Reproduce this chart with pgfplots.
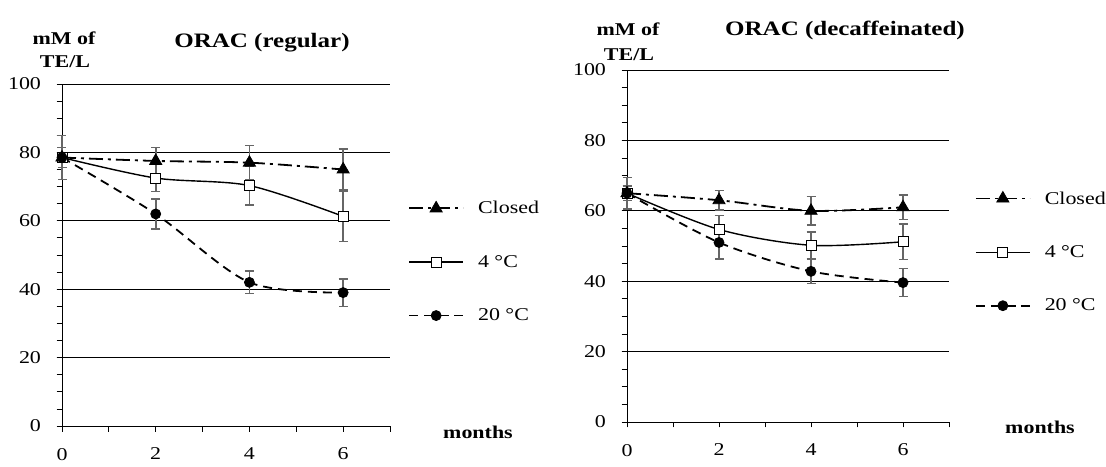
\documentclass[border=0pt]{standalone}
\usepackage{pgfplots}
\pgfplotsset{compat=1.18}
\usepackage{fontspec}
\setmainfont{Liberation Serif}[FakeStretch=1.22]

\pgfplotsset{
 orac/.style={
  scale only axis,
  xmin=0, xmax=7, ymin=0, ymax=100,
  axis x line*=bottom, axis y line*=left,
  axis line style={black, line width=0.9pt, -},
  xtick={0,1,...,7}, xticklabels={0,,2,,4,,6,},
  ytick={0,20,...,100},
  minor ytick={5,10,...,95},
  tick align=outside,
  major tick length=5.5pt, minor tick length=5.5pt,
  tick style={black, line width=0.8pt},
  ymajorgrids, grid style={black, line width=0.8pt},
  tick label style={font=\fontsize{18}{20}\selectfont},
  /pgf/number format/assume math mode=true,
  xticklabel style={yshift=-13pt},
  yticklabel style={xshift=-12pt},
  clip=false,
  legend style={draw=none, fill=none, font=\fontsize{18}{20}\selectfont, row sep=36pt, inner sep=0pt, cells={anchor=west}},
  legend image code/.code={\draw[mark repeat=2,mark phase=2] plot coordinates {(0pt,0pt)(27pt,0pt)(54pt,0pt)}; \path (66pt,0pt);},
 },
 closed/.style={black, line width=1.8pt, smooth, dash pattern=on 14pt off 5pt on 3pt off 5pt, mark=triangle*, mark size=7pt, mark options={solid, fill=black, line width=0.8pt}},
 four/.style={black, line width=1.4pt, smooth, solid, mark=square*, mark size=5pt, mark options={solid, fill=white, line width=1pt}},
 twenty/.style={black, line width=1.8pt, smooth, dash pattern=on 9pt off 6pt, mark=*, mark size=5pt, mark options={solid, fill=black, line width=0.8pt}},
 eb/.style={error bars/.cd, y dir=both, y explicit, error bar style={line width=1.6pt, black!60, solid}, error mark options={rotate=90, mark size=4.5pt, line width=1.4pt, black!60, solid}},
}

\begin{document}
\begin{tikzpicture}
\useasboundingbox (0,0) rectangle (1106pt,466pt);

% ---------- left chart ----------
\begin{axis}[orac, width=328pt, height=342pt, at={(62pt,40pt)}, anchor=south west,
  legend style={at={(1.055,0.48)}, anchor=west}]
\addplot[closed, eb] coordinates {(0,78.5) +- (0,6.5) (2,77.5) +- (0,4) (4,77) +- (0,5) (6,75) +- (0,6)};
\addlegendentry{Closed}
\addplot[four, eb] coordinates {(0,78.5) +- (0,3) (2,72.5) +- (0,4) (4,70.3) +- (0,5.7) (6,61.3) +- (0,7.3)};
\addlegendentry{4 °C}
\addplot[twenty, eb] coordinates {(0,78.5) +- (0,3) (2,62) +- (0,4.4) (4,42) +- (0,3.3) (6,39) +- (0,4)};
\addlegendentry{20 °C}
\end{axis}

% ---------- right chart ----------
\begin{axis}[orac, width=322pt, height=352pt, at={(627pt,44pt)}, anchor=south west,
  legend style={at={(1.08,0.483)}, anchor=west}]
\addplot[closed, eb] coordinates {(0,65) +- (0,4.5) (2,63) +- (0,2.8) (4,60) +- (0,4) (6,61) +- (0,3.5)};
\addlegendentry{Closed}
\addplot[four, eb] coordinates {(0,65) +- (0,2) (2,54.7) +- (0,4) (4,50.2) +- (0,3.8) (6,51.2) +- (0,5)};
\addlegendentry{4 °C}
\addplot[twenty, eb] coordinates {(0,65) +- (0,2) (2,51) +- (0,4.7) (4,42.8) +- (0,3.5) (6,39.6) +- (0,4)};
\addlegendentry{20 °C}
\end{axis}

% ---------- texts ----------
\begin{scope}[every node/.style={font=\fontsize{18}{20}\selectfont\bfseries, inner sep=0pt}]
\node[font=\fontsize{20.5}{22}\selectfont\bfseries] at (262pt,423pt) {ORAC (regular)};
\node at (64pt,428pt) {mM of};
\node at (65pt,404pt) {TE/L};
\node at (478pt,34pt) {months};
\node[font=\fontsize{20.5}{22}\selectfont\bfseries] at (845pt,436pt) {ORAC (decaffeinated)};
\node at (628pt,437pt) {mM of};
\node at (629pt,411pt) {TE/L};
\node at (1040pt,39pt) {months};
\end{scope}
\end{tikzpicture}
\end{document}
